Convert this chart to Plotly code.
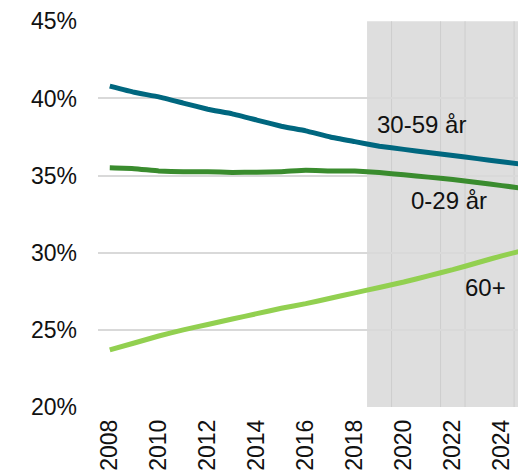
import plotly.graph_objects as go

years = list(range(2008, 2026))
age_30_59 = [40.8, 40.4, 40.1, 39.7, 39.3, 39.0, 38.6, 38.2, 37.9, 37.5, 37.2,
             36.9, 36.7, 36.5, 36.3, 36.1, 35.9, 35.7]
age_0_29 = [35.5, 35.45, 35.3, 35.25, 35.25, 35.2, 35.22, 35.25, 35.35, 35.3, 35.3,
            35.2, 35.05, 34.9, 34.75, 34.55, 34.35, 34.15]
age_60 = [23.7, 24.15, 24.6, 25.0, 25.35, 25.7, 26.05, 26.4, 26.7, 27.05, 27.4,
          27.75, 28.1, 28.5, 28.9, 29.35, 29.8, 30.2]

series_names = ["30-59 år", "0-29 år", "60+"]
series_colors = ["#00677F", "#3A8C2E", "#92D050"]
label_x = [2020.72, 2021.86, 2023.33]
label_y = [38.33, 33.4, 27.73]

x_ticks = list(range(2008, 2025, 2))
y_ticks = [20, 25, 30, 35, 40, 45]
y_tick_labels = [f"{v}%" for v in y_ticks]

forecast_start = 2018.5
forecast_grid = [2019.5, 2021.5, 2022.5, 2024.5]

fig = go.Figure()
for vals, name, col in zip([age_30_59, age_0_29, age_60], series_names, series_colors):
    fig.add_trace(go.Scatter(x=years, y=vals, mode="lines", name=name,
                             line=dict(color=col, width=5, shape="spline", smoothing=0.3)))

fig.add_shape(type="rect", xref="x", yref="y", x0=forecast_start, x1=2026, y0=20, y1=45,
              fillcolor="#DEDEDE", line=dict(width=0), layer="below")
for gx in forecast_grid:
    fig.add_shape(type="line", xref="x", yref="y", x0=gx, x1=gx, y0=20, y1=45,
                  line=dict(color="#CDCDCD", width=1), layer="below")

for name, lx, ly in zip(series_names, label_x, label_y):
    fig.add_annotation(x=lx, y=ly, text=name, showarrow=False,
                       font=dict(size=24, color="#111111", family="Liberation Sans, Arial"))

fig.update_layout(
    width=518, height=472,
    margin=dict(l=98, r=0, t=21, b=65),
    paper_bgcolor="white", plot_bgcolor="white",
    showlegend=False,
    font=dict(family="Liberation Sans, Arial", size=23, color="#111111"),
)
fig.update_xaxes(range=[2007.52, 2024.66], tickvals=x_ticks, ticktext=[str(v) for v in x_ticks],
                 tickangle=-90, showgrid=False, zeroline=False, showline=False, ticks="",
                 ticklabelstandoff=7, automargin=False, tickfont=dict(size=23))
fig.update_yaxes(range=[20, 45.02], tickvals=y_ticks, ticktext=y_tick_labels,
                 showgrid=True, gridcolor="#D9D9D9", gridwidth=1.5, zeroline=False,
                 showline=False, ticks="", ticklabelstandoff=20, automargin=False,
                 tickfont=dict(size=23))

fig.write_html("out.html", config={"displayModeBar": False},
               post_script="document.body.style.margin='0';document.body.style.overflow='hidden';")
